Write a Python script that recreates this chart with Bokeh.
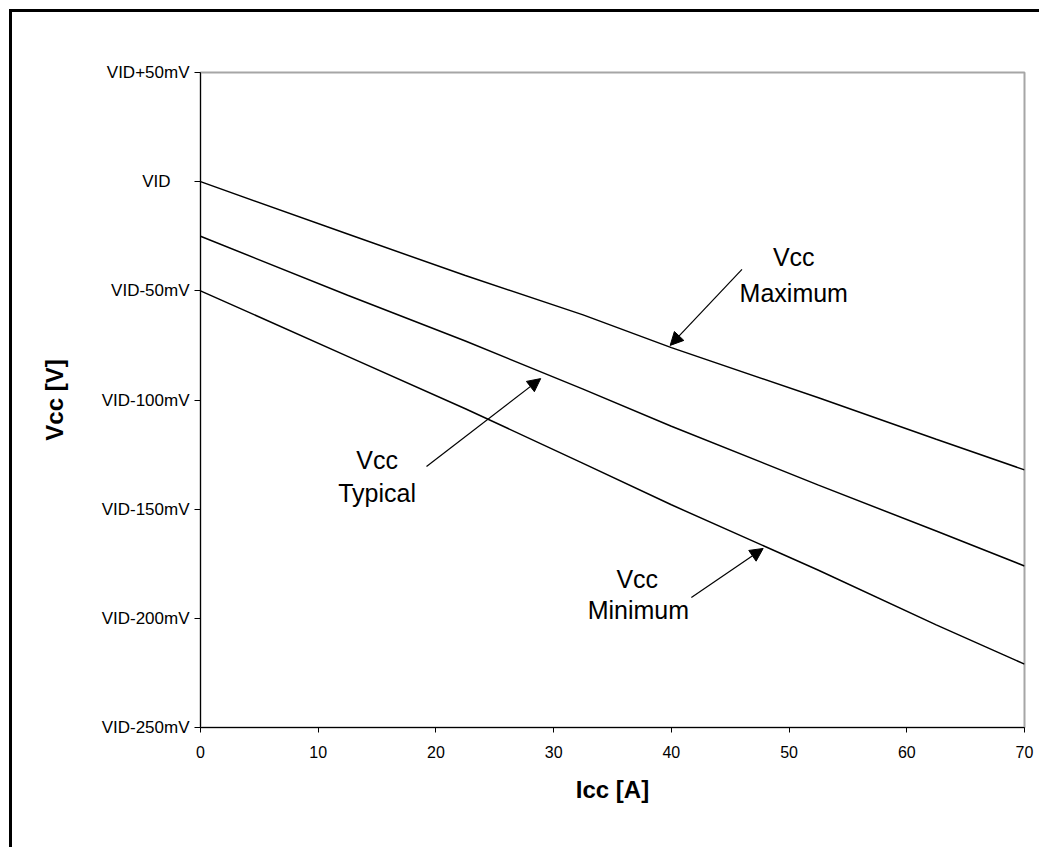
from bokeh.plotting import figure
from bokeh.models import Range1d, FixedTicker, Arrow, NormalHead, ColumnDataSource
from bokeh.core.properties import value
from bokeh.embed import file_html
from bokeh.resources import INLINE

# Data (mV relative to VID)
icc = [0, 12.5, 22.5, 32.5, 40, 52.5, 62.5, 70]
vcc_max = [0, -24, -43, -61, -76, -99, -118, -132]
vcc_typ = [-25, -52, -73, -95, -112, -139, -160, -176]
vcc_min = [-50, -80, -104, -129, -148, -178, -203, -221]

x_ticks = [0, 10, 20, 30, 40, 50, 60, 70]
y_ticks = [50, 0, -50, -100, -150, -200, -250]
y_tick_labels = ["VID+50mV", "VID\u00a0\u00a0\u00a0\u00a0", "VID-50mV", "VID-100mV",
                 "VID-150mV", "VID-200mV", "VID-250mV"]

# Annotations (data coordinates)
ann_text = ["Vcc", "Maximum", "Vcc", "Typical", "Vcc", "Minimum"]
ann_x = [50.4, 50.4, 15.0, 15.0, 37.1, 37.2]
ann_y = [-34.7, -50.8, -127.7, -142.8, -181.8, -196.4]
arrow_x_start = [46.0, 19.2, 41.7]
arrow_y_start = [-40.2, -130.5, -190.5]
arrow_x_end = [39.9, 28.9, 47.8]
arrow_y_end = [-75.0, -90.2, -168.0]

FONT = "Liberation Sans"

p = figure(width=1030, height=838, output_backend="svg", toolbar_location=None,
           x_range=Range1d(0, 70), y_range=Range1d(-250, 50),
           min_border_left=188, min_border_right=18, min_border_top=60, min_border_bottom=123)
p.styles = {"border-left": "3px solid black", "border-top": "3px solid black",
            "margin-left": "9px", "margin-top": "9px"}

p.xgrid.visible = False
p.ygrid.visible = False
p.outline_line_color = "#a6a6a6"
p.outline_line_width = 2

for ax in (p.xaxis[0], p.yaxis[0]):
    ax.axis_line_color = "black"
    ax.major_tick_line_color = "black"
    ax.minor_tick_line_color = None
    ax.major_tick_in = 0
    ax.major_label_text_font = FONT
    ax.major_label_text_color = "black"
    ax.axis_label_text_font = FONT
    ax.axis_label_text_font_size = "24px"
    ax.axis_label_text_font_style = "bold"
    ax.axis_label_text_color = "black"

p.xaxis.major_label_text_font_size = "16px"
p.yaxis.major_label_text_font_size = "17px"
p.xaxis.ticker = FixedTicker(ticks=x_ticks)
p.yaxis.ticker = FixedTicker(ticks=y_ticks)
p.yaxis.major_label_overrides = {t: l for t, l in zip(y_ticks, y_tick_labels)}
p.xaxis.major_tick_out = 5
p.yaxis.major_tick_out = 6
p.xaxis.major_label_standoff = 13
p.yaxis.major_label_standoff = 5
p.xaxis.axis_label = "Icc [A]"
p.yaxis.axis_label = "Vcc [V]"
p.xaxis.axis_label_standoff = 15
p.yaxis.axis_label_standoff = 31

for ys in (vcc_max, vcc_typ, vcc_min):
    p.line(icc, ys, line_color="black", line_width=1.5)

src = ColumnDataSource(dict(x=ann_x, y=ann_y, t=ann_text))
p.text(x="x", y="y", text="t", source=src, text_font=value(FONT), text_font_size="25px",
       text_align="center", text_baseline="middle", text_color="black")

for xs, ys, xe, ye in zip(arrow_x_start, arrow_y_start, arrow_x_end, arrow_y_end):
    p.add_layout(Arrow(x_start=xs, y_start=ys, x_end=xe, y_end=ye, line_color="black", line_width=1.2,
                       end=NormalHead(size=13, fill_color="black", line_color="black")))

open("out.html", "w").write(file_html(p, INLINE))
